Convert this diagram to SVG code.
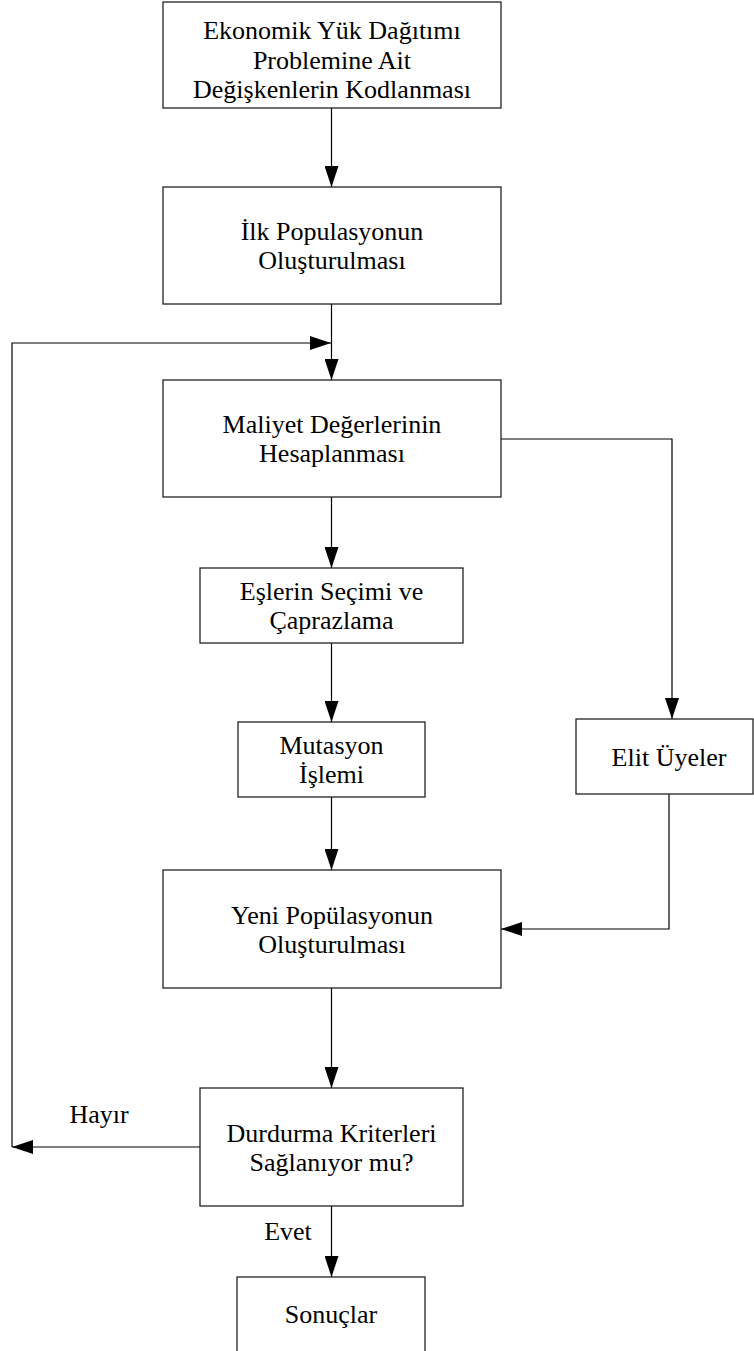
<svg xmlns="http://www.w3.org/2000/svg" width="754" height="1351" viewBox="0 0 754 1351">
<style>
.box{fill:#fff;stroke:#222;stroke-width:1.3}
.t{font-family:"Liberation Serif","Times New Roman",serif;font-size:26px;fill:#000;text-anchor:middle}
.c{fill:none;stroke:#000;stroke-width:1.2}
</style>
<defs>
<marker id="ah" markerUnits="userSpaceOnUse" markerWidth="21" markerHeight="14" refX="21" refY="7" orient="auto">
<path d="M0,0 L21,7 L0,14 z" fill="#000"/>
</marker>
</defs>
<rect width="754" height="1351" fill="#fff"/>
<g id="connectors">
<line class="c" x1="331.5" y1="108" x2="331.5" y2="187" marker-end="url(#ah)"/>
<line class="c" x1="331.5" y1="304" x2="331.5" y2="380" marker-end="url(#ah)"/>
<line class="c" x1="331.5" y1="497" x2="331.5" y2="568" marker-end="url(#ah)"/>
<line class="c" x1="331.5" y1="643" x2="331.5" y2="722" marker-end="url(#ah)"/>
<line class="c" x1="331.5" y1="797" x2="331.5" y2="870" marker-end="url(#ah)"/>
<line class="c" x1="331.5" y1="988" x2="331.5" y2="1088" marker-end="url(#ah)"/>
<line class="c" x1="331.5" y1="1206" x2="331.5" y2="1277" marker-end="url(#ah)"/>
<polyline class="c" points="501,439 672,439 672,719" marker-end="url(#ah)"/>
<polyline class="c" points="669,794 669,929 501,929" marker-end="url(#ah)"/>
<line class="c" x1="200" y1="1147" x2="12" y2="1147" marker-end="url(#ah)"/>
<polyline class="c" points="12,1147 12,343 331,343" marker-end="url(#ah)"/>
<text class="t" x="99" y="1123">Hayır</text>
<text class="t" x="288" y="1240">Evet</text>
</g>
<g id="n1">
<rect class="box" x="163" y="2" width="338" height="106"/>
<text class="t" x="332" y="39">Ekonomik Yük Dağıtımı</text>
<text class="t" x="332" y="68.5">Problemine Ait</text>
<text class="t" x="332" y="98">Değişkenlerin Kodlanması</text>
</g>
<g id="n2">
<rect class="box" x="163" y="187" width="338" height="117"/>
<text class="t" x="332" y="240">İlk Populasyonun</text>
<text class="t" x="332" y="269">Oluşturulması</text>
</g>
<g id="n3">
<rect class="box" x="163" y="380" width="338" height="117"/>
<text class="t" x="332" y="433">Maliyet Değerlerinin</text>
<text class="t" x="332" y="462">Hesaplanması</text>
</g>
<g id="n4">
<rect class="box" x="200" y="568" width="263" height="75"/>
<text class="t" x="331.5" y="600">Eşlerin Seçimi ve</text>
<text class="t" x="331.5" y="629">Çaprazlama</text>
</g>
<g id="n5">
<rect class="box" x="238" y="722" width="187" height="75"/>
<text class="t" x="331.5" y="754">Mutasyon</text>
<text class="t" x="331.5" y="783">İşlemi</text>
</g>
<g id="n6">
<rect class="box" x="163" y="870" width="338" height="118"/>
<text class="t" x="332" y="923.5">Yeni Popülasyonun</text>
<text class="t" x="332" y="952.5">Oluşturulması</text>
</g>
<g id="n7">
<rect class="box" x="576" y="719" width="177" height="75"/>
<text class="t" x="669" y="765.5">Elit Üyeler</text>
</g>
<g id="n8">
<rect class="box" x="200" y="1088" width="263" height="118"/>
<text class="t" x="331.5" y="1141.5">Durdurma Kriterleri</text>
<text class="t" x="331.5" y="1170.5">Sağlanıyor mu?</text>
</g>
<g id="n9">
<rect class="box" x="237" y="1277" width="188" height="90"/>
<text class="t" x="331" y="1323">Sonuçlar</text>
</g>
</svg>
